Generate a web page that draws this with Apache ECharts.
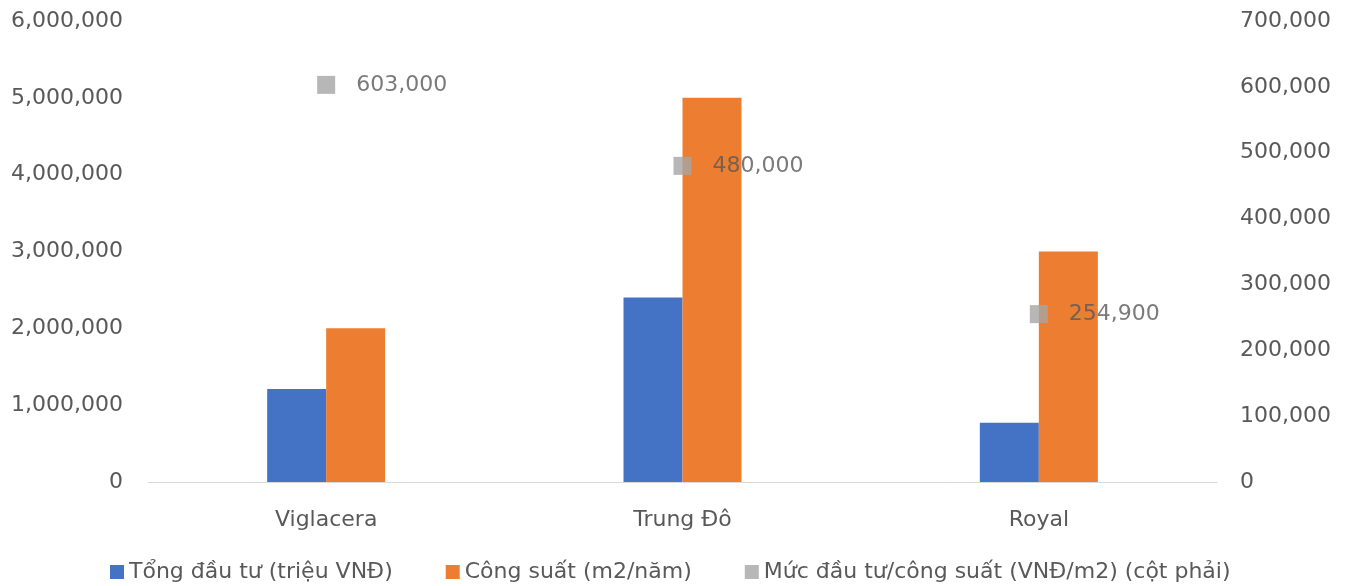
<!DOCTYPE html>
<html>
<head>
  <meta charset="UTF-8">
  <title>Tổng đầu tư và công suất</title>
  <style>
    html, body { margin: 0; padding: 0; background: #fff; }
    #chart { width: 1353px; height: 586px; }
  </style>
</head>
<body>
  <div id="chart"></div>
  <script src="https://cdn.jsdelivr.net/npm/echarts@6/dist/echarts.min.js"></script>
  <script>
// data
const categories = ['Viglacera', 'Trung Đô', 'Royal']
const tongDauTu = [1210000, 2400000, 770000]
const congSuat = [2000000, 5000000, 3000000]
const mucDauTu = [603000, 480000, 254900]
const seriesNames = ['Tổng đầu tư (triệu VNĐ)', 'Công suất (m2/năm)', 'Mức đầu tư/công suất (VNĐ/m2) (cột phải)']

const fmt = v => v.toLocaleString('en-US')
const txt = '#595959'
const font = 'DejaVu Sans'

const chart = echarts.init(document.getElementById('chart'))
chart.setOption({
  animation: false,
  textStyle: { fontFamily: font },
  grid: { left: 148, right: 136, top: 21, bottom: 104 },
  legend: {
    top: 556,
    left: 105,
    itemWidth: 14,
    itemHeight: 14,
    itemGap: 53,
    icon: 'rect',
    textStyle: { color: txt, fontSize: 22, fontFamily: font },
    data: seriesNames
  },
  xAxis: {
    type: 'category',
    data: categories,
    axisTick: { show: false },
    axisLine: { lineStyle: { color: '#d9d9d9', width: 1 } },
    axisLabel: { color: txt, fontSize: 22, margin: 27 }
  },
  yAxis: [
    {
      type: 'value', min: 0, max: 6000000, interval: 1000000,
      splitLine: { show: false },
      axisLabel: { color: txt, fontSize: 22, margin: 25, formatter: fmt }
    },
    {
      type: 'value', min: 0, max: 700000, interval: 100000,
      splitLine: { show: false },
      axisLabel: { color: txt, fontSize: 22, margin: 23, formatter: fmt }
    }
  ],
  series: [
    {
      name: seriesNames[0], type: 'bar', data: tongDauTu,
      barWidth: 59, barGap: '0%',
      itemStyle: { color: '#4472c4' }
    },
    {
      name: seriesNames[1], type: 'bar', data: congSuat,
      barWidth: 59, barGap: '0%',
      itemStyle: { color: '#ed7d31' }
    },
    {
      name: seriesNames[2], type: 'scatter', data: mucDauTu, yAxisIndex: 1,
      symbol: 'rect', symbolSize: 18,
      itemStyle: { color: '#a5a5a5' },
      label: {
        show: true, position: 'right', distance: 21,
        color: txt, fontSize: 22, formatter: p => fmt(p.value)
      }
    }
  ]
})
  </script>
</body>
</html>
